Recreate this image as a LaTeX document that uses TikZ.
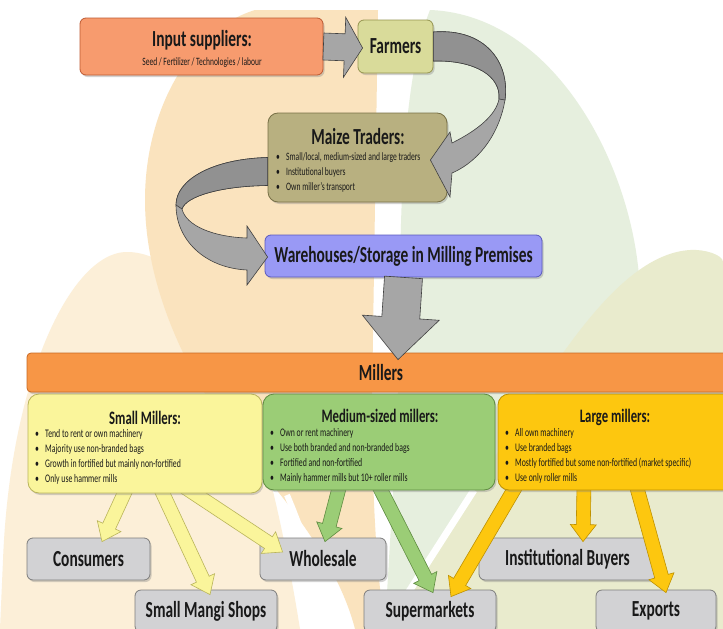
\documentclass[tikz,border=0pt]{standalone}
\usepackage{fontspec}
\setmainfont{Carlito}[FakeStretch=0.67]
\usetikzlibrary{calc,shadows}

\definecolor{Ink}          {RGB}{25, 25, 25}
\definecolor{SupplierOrange}{RGB}{247,155,110}
\definecolor{SupplierEdge} {RGB}{190, 90, 50}
\definecolor{FarmerOlive}  {RGB}{217,219,154}
\definecolor{FarmerEdge}   {RGB}{150,150, 80}
\definecolor{TraderKhaki}  {RGB}{184,176,128}
\definecolor{TraderEdge}   {RGB}{120,112, 70}
\definecolor{StoreBlue}    {RGB}{153,153,245}
\definecolor{StoreEdge}    {RGB}{ 90, 90,190}
\definecolor{MillOrange}   {RGB}{247,150, 70}
\definecolor{MillEdge}     {RGB}{200,105, 35}
\definecolor{SmallYellow}  {RGB}{250,245,155}
\definecolor{SmallEdge}    {RGB}{185,180, 90}
\definecolor{MediumGreen}  {RGB}{155,205,118}
\definecolor{MediumEdge}   {RGB}{ 95,140, 65}
\definecolor{LargeGold}    {RGB}{253,199, 15}
\definecolor{LargeEdge}    {RGB}{190,145,  0}
\definecolor{OutletGrey}   {RGB}{210,210,212}
\definecolor{OutletEdge}   {RGB}{125,125,125}
\definecolor{ArrowGrey}    {RGB}{166,166,166}
\definecolor{ArrowDark}    {RGB}{145,145,145}
\definecolor{BgBeige}      {RGB}{250,227,190}
\definecolor{BgCream}      {RGB}{252,239,216}
\definecolor{BgGreen}      {RGB}{230,239,222}
\definecolor{BgLime}       {RGB}{233,235,205}

\pgfdeclarelayer{leaves}
\pgfdeclarelayer{outlets}
\pgfdeclarelayer{links}
\pgfsetlayers{leaves,outlets,links,main}

\newcommand\itm{\makebox[10pt][l]{\textbullet}}
% block arrow: style, from, to, shaft half width, head half width, head length
\newcommand\fatarrow[6]{%
  \path (#2) coordinate (fa-a) (#3) coordinate (fa-b);
  \path ($(fa-b)!#6!(fa-a)$) coordinate (fa-h);
  \draw[#1] ($(fa-a)!#4!90:(fa-b)$) -- ($(fa-h)!#4!-90:(fa-a)$)
    -- ($(fa-h)!#5!-90:(fa-a)$) -- (fa-b) -- ($(fa-h)!#5!90:(fa-a)$)
    -- ($(fa-h)!#4!90:(fa-a)$) -- ($(fa-a)!#4!-90:(fa-b)$) -- cycle;}

\begin{document}
\begin{tikzpicture}[x=1pt, y=-1pt,
  box/.style={
    rounded corners=6pt, line width=0.8pt, inner sep=0pt,
    drop shadow={shadow xshift=1.5pt, shadow yshift=-2pt, opacity=.35}},
  stage/.style={
    box, font=\fontsize{23}{26}\selectfont\bfseries, text=Ink},
  millbox/.style={
    box, rounded corners=11pt},
  outlet/.style={
    box, fill=OutletGrey, draw=OutletEdge,
    minimum height=42pt,
    font=\fontsize{23}{26}\selectfont\bfseries, text=Ink},
  heading/.style={
    inner sep=0pt, font=\fontsize{23}{26}\selectfont\bfseries, text=Ink},
  subhead/.style={
    inner sep=0pt, font=\fontsize{19}{22}\selectfont\bfseries, text=Ink},
  bullets/.style={
    inner sep=0pt, anchor=north west, align=left,
    font=\fontsize{11.6}{15}\selectfont, text=Ink},
  greyarrow/.style={
    fill=ArrowGrey, draw=black!75, line width=0.6pt},
  yellowarrow/.style={
    fill=SmallYellow, draw=SmallEdge, line width=0.6pt},
  greenarrow/.style={
    fill=MediumGreen, draw=MediumEdge, line width=0.6pt},
  goldarrow/.style={
    fill=LargeGold, draw=LargeEdge, line width=0.6pt}
]

\clip (0,0) rectangle (723,629);

% background leaves
\begin{pgfonlayer}{leaves}
\fill[white] (0,0) rectangle (723,629);
\fill[BgCream] (0,629) -- (3,560) .. controls (10,380) and (70,255)
  .. (125,252) .. controls (200,250) and (260,380) .. (300,629) -- cycle;
\fill[BgBeige] (255,10) .. controls (190,30) and (145,110) .. (145,200)
  .. controls (145,300) and (200,400) .. (260,470)
  .. controls (320,540) and (345,590) .. (355,629) -- (385,629)
  .. controls (375,560) and (372,480) .. (372,400) -- (378,10) -- cycle;
\fill[BgGreen] (430,10) .. controls (560,15) and (640,180) .. (640,300)
  .. controls (640,400) and (560,480) .. (520,629) -- (385,629)
  .. controls (392,500) and (400,400) .. (400,300)
  .. controls (400,150) and (410,60) .. (430,10) -- cycle;
\fill[BgLime] (383,629) -- (470,495) .. controls (540,390) and (610,255)
  .. (690,250) .. controls (705,249) and (723,255) .. (723,262)
  -- (723,629) -- cycle;
\draw[white, line width=7pt] (378,640) -- (474,490);
\draw[white, line width=6pt] (287,495) .. controls (310,550) and (325,600) .. (335,640);
\end{pgfonlayer}

% outlets
\begin{pgfonlayer}{outlets}
\node[outlet, minimum width=123pt] (cons)  at (88.5,559) {Consumers};
\node[outlet, minimum width=126pt] (whole) at (323,559)  {Wholesale};
\node[outlet, minimum width=177pt] (inst)  at (567.5,559) {Institutional Buyers};
\node[outlet, minimum width=142pt] (mangi) at (206,611)  {Small Mangi Shops};
\node[outlet, minimum width=132pt] (super) at (430,611)  {Supermarkets};
\node[outlet, minimum width=120pt] (exp)   at (656,611)  {Exports};
\end{pgfonlayer}

% millers
\node[millbox, fill=SmallYellow, draw=SmallEdge,
  minimum width=234pt, minimum height=99pt] (small) at (145,443.5) {};
\node[millbox, fill=MediumGreen, draw=MediumEdge,
  minimum width=232pt, minimum height=96pt] (med) at (379,442) {};
\node[millbox, fill=LargeGold, draw=LargeEdge,
  minimum width=237pt, minimum height=96pt] (large) at (616.5,442) {};

\node[subhead] (smalltitle) at (145,418) {Small Millers:};
\node[bullets] (smalllist) at (35,429)
  {\itm Tend to rent or own machinery\\
   \itm Majority use non-branded bags\\
   \itm Growth in fortified but mainly non-fortified\\
   \itm Only use hammer mills};
\node[subhead] (medtitle) at (380,416) {Medium-sized millers:};
\node[bullets] (medlist) at (270,428)
  {\itm Own or rent machinery\\
   \itm Use both branded and non-branded bags\\
   \itm Fortified and non-fortified\\
   \itm Mainly hammer mills but 10+ roller mills};
\node[subhead] (largetitle) at (615,417) {Large millers:};
\node[bullets] (largelist) at (505,428)
  {\itm All own machinery\\
   \itm Use branded bags\\
   \itm Mostly fortified but some non-fortified (market specific)\\
   \itm Use only roller mills};

\begin{pgfonlayer}{links}
\fatarrow{yellowarrow}{[xshift=-18pt,yshift=6pt]small.south}{[xshift=13.5pt,yshift=-4pt]cons.north}{7pt}{13pt}{17pt}
\fatarrow{yellowarrow}{[xshift=15pt,yshift=6pt]small.south}{[xshift=4pt,yshift=-5pt]mangi.north}{7pt}{13pt}{17pt}
\fatarrow{yellowarrow}{[xshift=40pt,yshift=6pt]small.south}{[xshift=23pt,yshift=7pt]whole.west}{7pt}{13pt}{17pt}
\fatarrow{greenarrow}{[xshift=-39pt,yshift=6pt]med.south}{[xshift=2pt,yshift=-4pt]whole.north}{7pt}{13pt}{17pt}
\fatarrow{greenarrow}{[xshift=-1pt,yshift=6pt]med.south}{[xshift=3pt,yshift=-3pt]super.north}{7pt}{13pt}{17pt}
\fatarrow{goldarrow}{[xshift=-99.5pt,yshift=6pt]large.south}{[xshift=21pt,yshift=-7pt]super.north}{7pt}{13pt}{17pt}
\fatarrow{goldarrow}{[xshift=-32.5pt,yshift=6pt]large.south}{[xshift=15.5pt,yshift=-4pt]inst.north}{7pt}{13pt}{17pt}
\fatarrow{goldarrow}{[xshift=19.5pt,yshift=6pt]large.south}{[xshift=10pt,yshift=-3pt]exp.north}{7pt}{13pt}{17pt}
\end{pgfonlayer}

% chain above the millers
\node[stage, fill=MillOrange, draw=MillEdge, rounded corners=4pt,
  minimum width=708pt, minimum height=39pt] (mill) at (381,372.5) {Millers};
\node[stage, fill=StoreBlue, draw=StoreEdge,
  minimum width=277pt, minimum height=42pt] (ware) at (403.5,256)
  {Warehouses/Storage in Milling Premises};
\node[box, fill=TraderKhaki, draw=TraderEdge, rounded corners=10pt,
  minimum width=179pt, minimum height=89pt] (trad) at (357.5,157.5) {};
\node[heading] (tradtitle) at (358,137) {Maize Traders:};
\node[bullets, font=\fontsize{11.3}{15}\selectfont] (tradlist) at (276,152)
  {\itm Small/local, medium-sized and large traders\\
   \itm Institutional buyers\\
   \itm Own miller’s transport};
\node[stage, fill=FarmerOlive, draw=FarmerEdge,
  minimum width=75pt, minimum height=53pt] (farm) at (395.5,46.5) {Farmers};
\node[box, fill=SupplierOrange, draw=SupplierEdge,
  minimum width=243pt, minimum height=57pt] (inp) at (201.5,46.5) {};
\node[heading] (inptitle) at (202,40) {Input suppliers:};
\node[inner sep=0pt, font=\fontsize{11.2}{13}\selectfont, text=Ink]
  (inpsub) at (202,63) {Seed / Fertilizer / Technologies / labour};

% grey flow arrows
\fatarrow{greyarrow}{inp.east}{[xshift=5pt,yshift=-1.5pt]farm.west}{13.5pt}{30pt}{18pt}

\draw[greyarrow] ([yshift=14.5pt]farm.east) .. controls (485,28) and (510,62) .. (505,100)
  .. controls (500,130) and (482,160) .. (452,173) -- (450,197)
  -- ([xshift=-17pt,yshift=-2.5pt]trad.east) -- (450,132) -- (452,143)
  .. controls (478,130) and (496,115) .. (499,99)
  .. controls (501,76) and (475,60) .. ([yshift=-14.5pt]farm.east) -- cycle;
\draw[greyarrow, fill=ArrowDark] ([yshift=14.5pt]farm.east) .. controls (485,28) and (510,62) .. (505,100)
  -- (499,99) .. controls (501,76) and (475,60) .. ([yshift=-14.5pt]farm.east) -- cycle;

\draw[greyarrow] (trad.west) .. controls (212,159) and (176,180) .. (176,205)
  .. controls (176,240) and (205,268) .. (247,270) -- (247,285)
  -- ([xshift=3pt,yshift=-1pt]ware.west) -- (247,226) -- (247,238)
  .. controls (214,237) and (186,226) .. (182,209)
  .. controls (186,196) and (222,186) .. ([yshift=-28pt]trad.west) -- cycle;
\draw[greyarrow, fill=ArrowDark] (trad.west) .. controls (212,159) and (176,180) .. (176,205)
  -- (182,209) .. controls (186,196) and (222,186) .. ([yshift=-28pt]trad.west) -- cycle;

\fatarrow{greyarrow}{ware.south}{[xshift=17pt,yshift=-7pt]mill.north}{19pt}{38.5pt}{42pt}

\end{tikzpicture}
\end{document}
